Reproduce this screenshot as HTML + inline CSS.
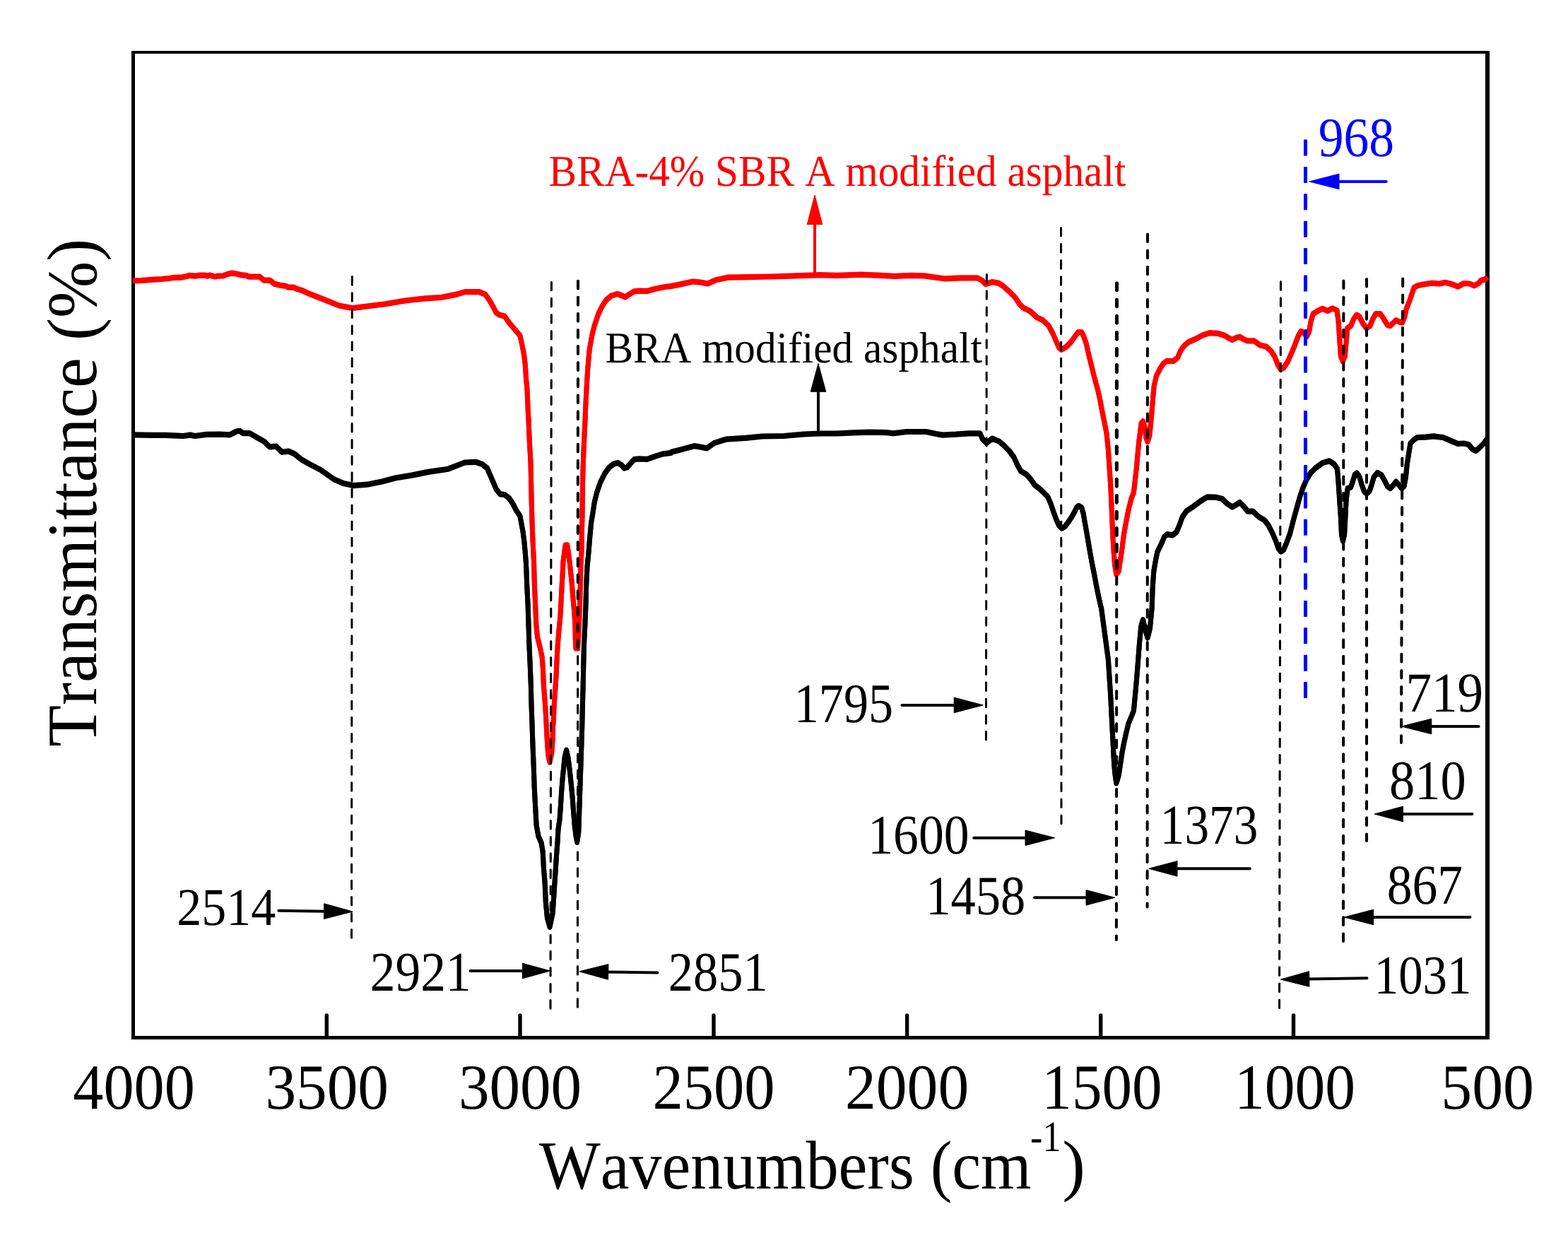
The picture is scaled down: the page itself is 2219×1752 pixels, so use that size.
<!DOCTYPE html>
<html lang="en"><head><meta charset="utf-8"><title>FTIR spectra</title>
<style>html,body{margin:0;padding:0;background:#fff}body{width:2219px;height:1752px;overflow:hidden}svg{display:block}</style>
</head><body>
<svg width="2219" height="1752" viewBox="0 0 2219 1752" font-family='"Liberation Serif", serif' text-rendering="geometricPrecision" style="font-kerning:none;font-variant-ligatures:none">
<rect width="2219" height="1752" fill="#fff"/>
<rect x="186" y="72" width="5" height="1399" fill="#000"/>
<rect x="2102" y="72" width="6" height="1399" fill="#000"/>
<rect x="186" y="72" width="1922" height="4" fill="#000"/>
<rect x="186" y="1466" width="1922" height="5" fill="#000"/>
<path d="M188 614.8 L189.4 614.8 L215.1 615.3 L233.9 615.3 L259.6 616.4 L269 615 L276 616.4 L292.4 614.3 L311.1 614.1 L325.2 614.8 L334.6 609.9 L339.3 609.2 L343.9 612.5 L353.3 612.5 L365 619.3 L374.4 624.6 L381.4 631.7 L390.8 631 L399 639.2 L408.3 638 L416.5 641.5 L425.9 649.2 L437.6 656 L454 664.5 L472.7 677.8 L486.8 683.7 L500.8 686.5 L519.6 685.1 L540.7 680.9 L559.4 675.9 L582.8 672 L606.2 667.3 L634.3 663.1 L657.8 653.9 L671.8 653.2 L674 653.4 L682.5 656.5 L689.5 662.1 L694.4 673.4 L698.6 683.2 L702.2 691.6 L707.8 698.7 L714.1 699.4 L720.4 704.3 L726 712.7 L730.3 721.1 L735.9 729.6 L738 740.8 L740.1 752.1 L741.9 766.1 L743.2 780.2 L744.3 794.2 L745 808.3 L745.7 827.5 L747.1 855.6 L748 883.7 L748.9 911.8 L750.2 939.9 L751.3 968 L752 996.1 L753 1024.2 L754.1 1057.5 L755.3 1085.6 L756.2 1113.7 L757.7 1141.8 L759.1 1167.1 L761.9 1182.6 L766.1 1192.4 L768.2 1205 L769.3 1226.1 L771 1247.2 L772.4 1277.5 L774.5 1298.6 L778 1311.2 L782.2 1291.6 L783.6 1270.5 L785.1 1247.2 L786.5 1226.1 L787.9 1205 L789 1191 L790 1172.7 L792.1 1158.7 L793.5 1139 L794.6 1120.7 L796 1102.5 L797.7 1085.6 L799.1 1071.6 L801.5 1061 L804 1071.6 L806.1 1088.4 L808.2 1108.1 L810.1 1127.8 L811.7 1148.8 L813.4 1169.9 L815.3 1184 L816.7 1191 L818.8 1176.9 L819.5 1155.9 L820.2 1134.8 L820.9 1113.7 L821.6 1092.6 L822.3 1071.6 L823 1050.5 L823.7 1029.4 L824.1 1010.2 L825.2 968 L825.8 939.9 L826.5 911.8 L827.9 883.7 L829 855.6 L829.7 827.5 L831.1 799.4 L831.7 794.2 L833.1 780.2 L834.2 766.1 L835.4 752.1 L836.8 738 L839.2 724 L841.3 709.9 L844.8 695.9 L849.7 681.8 L856 669.2 L862.3 660.7 L868 656.2 L874.3 654.4 L879.2 657.2 L883.4 661.9 L887.6 660.7 L891.8 655.8 L897.5 649.5 L904.5 648.8 L915.7 649.2 L927 645.3 L938.2 641.8 L949.4 640.4 L950 639.2 L964 635.7 L982.8 630.5 L992.2 632.1 L1000.4 633.8 L1010.9 626.3 L1027.3 621.1 L1055.4 619.3 L1078.8 616.9 L1109.3 616.4 L1137.4 613.9 L1160.8 612.9 L1184.2 612.9 L1207.6 611.8 L1231 611.1 L1254.4 611.5 L1263.8 612.7 L1282.6 610.4 L1310.7 610.4 L1324.7 613.4 L1334.1 615 L1352.8 614.1 L1371.5 612.7 L1386.8 612.7 L1390.3 620.4 L1396.1 626.3 L1404.3 620 L1413.7 623.9 L1420 629.2 L1428.2 637.4 L1434.8 646.4 L1439.7 657.1 L1444.6 666.1 L1452.8 671 L1459.3 678.4 L1464.3 685.8 L1470.8 690.7 L1477.4 696.8 L1483.1 703 L1487.2 712.8 L1490.5 722.7 L1494.6 734.2 L1498.7 743.2 L1502.8 746.9 L1506.9 744.8 L1511.8 738.3 L1516.7 730.9 L1520.8 723.5 L1524.1 716.9 L1526.6 715.3 L1530.7 717.8 L1533.1 726 L1535.6 740.7 L1538 753.8 L1540.5 768.6 L1543 783.3 L1545.4 796.4 L1548.7 812.8 L1551.1 826 L1554.4 842.4 L1557.7 857.1 L1558.5 859.4 L1561.8 884 L1565.1 908.6 L1568.4 933.2 L1570 957.8 L1571.6 982.4 L1572.8 1006.9 L1574.1 1031.5 L1575.4 1056.1 L1576.6 1080.7 L1578.2 1097.1 L1579.8 1107.8 L1583.1 1097.1 L1585.6 1080.7 L1588 1064.3 L1590.5 1051.2 L1593.8 1036.4 L1597 1023.3 L1601.1 1013.5 L1604.4 1005.3 L1606.1 987.3 L1608.5 961 L1610.7 933.2 L1612.6 908.6 L1614.8 885.6 L1617.5 876.6 L1620.3 888.9 L1624.1 902 L1627.4 888.9 L1629 872.5 L1630.2 859.4 L1631.1 832.5 L1632.8 807.9 L1635.6 791.5 L1638 780.1 L1643 770.2 L1647.9 758.7 L1652 755.5 L1659.3 756.8 L1665.1 752.2 L1669.2 742.4 L1673.3 730.9 L1679 722.7 L1688.9 716.1 L1698.7 708.7 L1708.5 702.7 L1720 703 L1729.8 705.5 L1736.4 712 L1743.8 716.9 L1749.5 713.7 L1754.4 710.4 L1760.2 716.1 L1765.7 723 L1773.1 723 L1781.3 730.7 L1789.5 735.6 L1795.2 743 L1801 754.5 L1805.9 766 L1809.2 775.8 L1812.8 779.9 L1816.6 777.4 L1820.7 767.6 L1825.6 754.5 L1829.7 738.1 L1833.8 723.3 L1838.7 705.3 L1843.6 690.5 L1849.3 677.4 L1855.1 668.4 L1861.6 661.9 L1871.5 654.5 L1881.3 651.7 L1887.9 656.1 L1892.5 662.7 L1894.1 682.4 L1895.7 706.9 L1897.4 731.5 L1898.5 756.1 L1900.5 765.1 L1902.6 756.1 L1903.9 731.5 L1905.1 706.9 L1907.2 690.5 L1911.6 688.9 L1914.9 679.1 L1917.4 670.9 L1920.3 668.9 L1923.9 674.2 L1927.2 685.6 L1930.5 694.6 L1934.1 697.9 L1937.9 694.6 L1941.1 685.6 L1944.4 674.2 L1949.3 668.4 L1955.1 671.7 L1959.2 679.1 L1963.3 687.3 L1967.4 690.5 L1971.5 686.4 L1975.6 681 L1979.7 685.6 L1983.8 690.5 L1987 687.3 L1989.5 674.2 L1991.1 657.8 L1993.6 641.4 L1996.1 626.6 L2001 621.7 L2005.9 618.4 L2017.4 618.1 L2028.9 616.8 L2042 618.4 L2053.4 623.3 L2063.3 627.4 L2071.5 626.9 L2078 628.3 L2083.8 635.1 L2088.7 637.3 L2094.4 632.4 L2100.2 626.6 L2104.3 620.9" fill="none" stroke="#000" stroke-width="7.0" stroke-linejoin="round" stroke-linecap="butt"/>
<path d="M188 616 L189.4 616 L215.1 616.5 L233.9 616.5 L259.6 617.6 L269 616.2 L276 617.6 L292.4 615.5 L311.1 615.3 L325.2 616 L334.6 611.1 L339.3 610.4 L343.9 613.7 L353.3 613.7 L365 620.5 L374.4 625.8 L381.4 632.9 L390.8 632.2 L399 640.4 L408.3 639.2 L416.5 642.7 L425.9 650.4 L437.6 657.2 L454 665.7 L472.7 679 L486.8 684.9 L500.8 687.7 L519.6 686.3 L540.7 682.1 L559.4 677.1 L582.8 673.2 L606.2 668.5 L634.3 664.3 L657.8 655.1 L671.8 654.4 L674 654.6 L682.5 657.7 L689.5 663.3 L694.4 674.6 L698.6 684.4 L702.2 692.8 L707.8 699.9 L714.1 700.6 L720.4 705.5 L726 713.9 L730.3 722.3 L735.9 730.8 L738 742 L740.1 753.3 L741.9 767.3 L743.2 781.4 L744.3 795.4 L745 809.5 L745.7 828.7 L747.1 856.8 L748 884.9 L748.9 913 L750.2 941.1 L751.3 969.2 L752 997.3 L753 1025.4 L754.1 1058.7 L755.3 1086.8 L756.2 1114.9 L757.7 1143 L759.1 1168.3 L761.9 1183.8 L766.1 1193.6 L768.2 1206.2 L769.3 1227.3 L771 1248.4 L772.4 1278.7 L774.5 1299.8 L778 1312.4 L782.2 1292.8 L783.6 1271.7 L785.1 1248.4 L786.5 1227.3 L787.9 1206.2 L789 1192.2 L790 1173.9 L792.1 1159.9 L793.5 1140.2 L794.6 1121.9 L796 1103.7 L797.7 1086.8 L799.1 1072.8 L801.5 1062.2 L804 1072.8 L806.1 1089.6 L808.2 1109.3 L810.1 1129 L811.7 1150 L813.4 1171.1 L815.3 1185.2 L816.7 1192.2 L818.8 1178.1 L819.5 1157.1 L820.2 1136 L820.9 1114.9 L821.6 1093.8 L822.3 1072.8 L823 1051.7 L823.7 1030.6 L824.1 1011.4 L825.2 969.2 L825.8 941.1 L826.5 913 L827.9 884.9 L829 856.8 L829.7 828.7 L831.1 800.6 L831.7 795.4 L833.1 781.4 L834.2 767.3 L835.4 753.3 L836.8 739.2 L839.2 725.2 L841.3 711.1 L844.8 697.1 L849.7 683 L856 670.4 L862.3 661.9 L868 657.4 L874.3 655.6 L879.2 658.4 L883.4 663.1 L887.6 661.9 L891.8 657 L897.5 650.7 L904.5 650 L915.7 650.4 L927 646.5 L938.2 643 L949.4 641.6 L950 640.4 L964 636.9 L982.8 631.7 L992.2 633.3 L1000.4 635 L1010.9 627.5 L1027.3 622.3 L1055.4 620.5 L1078.8 618.1 L1109.3 617.6 L1137.4 615.1 L1160.8 614.1 L1184.2 614.1 L1207.6 613 L1231 612.3 L1254.4 612.7 L1263.8 613.9 L1282.6 611.6 L1310.7 611.6 L1324.7 614.6 L1334.1 616.2 L1352.8 615.3 L1371.5 613.9 L1386.8 613.9 L1390.3 621.6 L1396.1 627.5 L1404.3 621.2 L1413.7 625.1 L1420 630.4 L1428.2 638.6 L1434.8 647.6 L1439.7 658.3 L1444.6 667.3 L1452.8 672.2 L1459.3 679.6 L1464.3 687 L1470.8 691.9 L1477.4 698 L1483.1 704.2 L1487.2 714 L1490.5 723.9 L1494.6 735.4 L1498.7 744.4 L1502.8 748.1 L1506.9 746 L1511.8 739.5 L1516.7 732.1 L1520.8 724.7 L1524.1 718.1 L1526.6 716.5 L1530.7 719 L1533.1 727.2 L1535.6 741.9 L1538 755 L1540.5 769.8 L1543 784.5 L1545.4 797.6 L1548.7 814 L1551.1 827.2 L1554.4 843.6 L1557.7 858.3 L1558.5 860.6 L1561.8 885.2 L1565.1 909.8 L1568.4 934.4 L1570 959 L1571.6 983.6 L1572.8 1008.1 L1574.1 1032.7 L1575.4 1057.3 L1576.6 1081.9 L1578.2 1098.3 L1579.8 1109 L1583.1 1098.3 L1585.6 1081.9 L1588 1065.5 L1590.5 1052.4 L1593.8 1037.6 L1597 1024.5 L1601.1 1014.7 L1604.4 1006.5 L1606.1 988.5 L1608.5 962.2 L1610.7 934.4 L1612.6 909.8 L1614.8 886.8 L1617.5 877.8 L1620.3 890.1 L1624.1 903.2 L1627.4 890.1 L1629 873.7 L1630.2 860.6 L1631.1 833.7 L1632.8 809.1 L1635.6 792.7 L1638 781.3 L1643 771.4 L1647.9 759.9 L1652 756.7 L1659.3 758 L1665.1 753.4 L1669.2 743.6 L1673.3 732.1 L1679 723.9 L1688.9 717.3 L1698.7 709.9 L1708.5 703.9 L1720 704.2 L1729.8 706.7 L1736.4 713.2 L1743.8 718.1 L1749.5 714.9 L1754.4 711.6 L1760.2 717.3 L1765.7 724.2 L1773.1 724.2 L1781.3 731.9 L1789.5 736.8 L1795.2 744.2 L1801 755.7 L1805.9 767.2 L1809.2 777 L1812.8 781.1 L1816.6 778.6 L1820.7 768.8 L1825.6 755.7 L1829.7 739.3 L1833.8 724.5 L1838.7 706.5 L1843.6 691.7 L1849.3 678.6 L1855.1 669.6 L1861.6 663.1 L1871.5 655.7 L1881.3 652.9 L1887.9 657.3 L1892.5 663.9 L1894.1 683.6 L1895.7 708.1 L1897.4 732.7 L1898.5 757.3 L1900.5 766.3 L1902.6 757.3 L1903.9 732.7 L1905.1 708.1 L1907.2 691.7 L1911.6 690.1 L1914.9 680.3 L1917.4 672.1 L1920.3 670.1 L1923.9 675.4 L1927.2 686.8 L1930.5 695.8 L1934.1 699.1 L1937.9 695.8 L1941.1 686.8 L1944.4 675.4 L1949.3 669.6 L1955.1 672.9 L1959.2 680.3 L1963.3 688.5 L1967.4 691.7 L1971.5 687.6 L1975.6 682.2 L1979.7 686.8 L1983.8 691.7 L1987 688.5 L1989.5 675.4 L1991.1 659 L1993.6 642.6 L1996.1 627.8 L2001 622.9 L2005.9 619.6 L2017.4 619.3 L2028.9 618 L2042 619.6 L2053.4 624.5 L2063.3 628.6 L2071.5 628.1 L2078 629.5 L2083.8 636.3 L2088.7 638.5 L2094.4 633.6 L2100.2 627.8 L2104.3 622.1" fill="none" stroke="#000" stroke-width="7.0" stroke-linejoin="round" stroke-linecap="butt"/>
<path d="M188 396.9 L199.2 396.4 L213.7 395.2 L228.1 394.4 L240.1 393.2 L247.3 392.2 L256.9 392 L264.1 390.4 L267.7 389.2 L276.2 390.1 L282.2 389 L290.6 389 L293 390.1 L297.2 388.9 L304.4 391 L307.4 390.1 L315.8 389.8 L321.8 387.4 L327.8 385.9 L336.2 387.2 L341.1 388.6 L348.3 389.2 L351.9 391 L367.5 391 L373.5 396.1 L381.9 396.1 L387.9 400.9 L396.3 403.1 L404.8 404.3 L408.4 406.1 L415.6 406.1 L420.4 408.5 L427.6 410.3 L434.8 413.9 L440 416 L461 424.2 L479.8 431.9 L498.5 435.4 L517.2 433.1 L545.3 429.6 L573.4 424.9 L601.5 421.8 L625 420.2 L646 416 L657.8 412.5 L671.8 412.5 L678.3 412.5 L686.7 416 L692.3 423.7 L697.9 433.5 L702.2 442 L706.4 444.8 L714.1 446.9 L720.4 456 L728.8 465.9 L735.9 474.3 L738.7 486.9 L741.5 501 L743.2 515 L744.6 536.1 L746 550.2 L747.1 578.3 L748.2 597.5 L749.4 625.6 L751 653.7 L751.6 681.8 L752.2 709.9 L753 738 L754.1 766.1 L755.5 794.2 L756.4 827.5 L757.7 855.6 L758.8 883.7 L760.5 900.6 L764 914.6 L767.1 928.7 L768.5 946.9 L769.3 968 L770.7 986.3 L772 1003.1 L773.1 1024.2 L774.5 1050.4 L775.9 1068.7 L778 1077.9 L780.8 1064.5 L782 1047.7 L782.5 1029.4 L783.4 1017.2 L784.3 996.1 L785.8 975 L787.2 954 L788.1 932.9 L789.3 911.8 L790.7 894.9 L792.8 872.5 L794.2 848.6 L795.2 827.5 L796.3 808.3 L797 794.2 L799 778.4 L800.3 770.8 L802.7 770.8 L804 778.4 L806.1 794.2 L807.5 808.3 L808.9 820.5 L810.6 841.6 L812.5 862.6 L813.9 883.7 L814.3 904.8 L814.9 917 L817.6 917 L818.4 904.8 L819.5 883.7 L820.5 855.6 L821.3 827.5 L821.9 799.4 L823 780.2 L823.4 752.1 L824.1 724 L824.4 688.8 L825.1 660.7 L826.5 625.6 L827.9 597.5 L828.6 578.3 L830 550.2 L831.7 522.1 L834.2 494 L837.7 474.3 L841.3 460.2 L846.9 443.4 L852.5 432.1 L858.1 423.7 L865.1 418.1 L873.6 415.3 L879.2 417.4 L884.8 419.8 L890.4 416 L897.5 411.8 L903.1 411.1 L915.7 411.3 L927 408.2 L941 405.4 L950 404.3 L964 401.5 L980.4 397.9 L992.2 399.1 L1001.5 400.8 L1013.2 395.6 L1029.6 392.1 L1055.4 391.6 L1090.5 390.9 L1125.6 389.8 L1160.8 388.6 L1184.2 389.3 L1219.3 388.1 L1242.7 389 L1266.2 390.2 L1289.6 389.3 L1308.3 389.8 L1324.7 392.1 L1336.4 393.7 L1359.8 392.8 L1383.3 392.8 L1390.3 396.8 L1395 401.5 L1404.3 398.4 L1413.7 400.3 L1420 404.5 L1428.2 411.9 L1436.4 420.1 L1443 429.9 L1447.9 434.8 L1457.7 439.7 L1467.5 448.7 L1475.7 452.5 L1483.9 460.2 L1490.5 472.5 L1495.4 484 L1498.7 491.4 L1502 494.2 L1508.5 490.5 L1515.1 484 L1521.6 475 L1525.7 469.6 L1530.7 469.6 L1533.9 475.8 L1537.2 485.6 L1540.5 500.4 L1543.8 513.5 L1547 526.6 L1550.3 539.7 L1553.6 551.2 L1556.9 566 L1559.3 579.1 L1562.6 595.5 L1565.9 611.9 L1567.5 627.4 L1568.4 635.8 L1570 660.4 L1571.6 685 L1572.8 709.6 L1573.8 734.2 L1574.9 758.7 L1576.1 780.1 L1577.7 799.7 L1579.8 812 L1583.1 807.9 L1585.6 791.5 L1588 775.1 L1590.5 755.5 L1593.8 737.4 L1597 721 L1601.1 704.6 L1604.4 696.4 L1606.1 681.7 L1608.5 660.4 L1610.2 640.7 L1611.8 624.3 L1613.4 611.9 L1615.1 598.7 L1617.5 595.5 L1620.3 605.3 L1621.6 618.4 L1624.1 624.6 L1626.9 615.1 L1628.5 598.7 L1630.2 580.7 L1631.5 564.3 L1633.1 546.3 L1636.4 531.5 L1641.3 521.7 L1646.2 514.3 L1651.1 510.2 L1661 510.2 L1666.7 505.3 L1670.8 495.5 L1675.7 488.9 L1682.3 483.2 L1692.1 479.1 L1702 473.8 L1711.8 470.5 L1723.3 471.2 L1733.1 474.2 L1739.7 478.3 L1743.8 480.4 L1749.5 477.4 L1754.4 476.1 L1759.3 479.1 L1764.9 481.7 L1774.8 481.7 L1783 487.8 L1792 489.9 L1799.3 496.8 L1804.3 505 L1808.4 515.6 L1812.5 522.2 L1816.6 519.7 L1822.3 511.5 L1827.2 500.1 L1832.1 488.6 L1837 475.5 L1841.1 468.1 L1845.2 470.5 L1849.3 475.5 L1852.6 468.9 L1855.1 454.2 L1858.4 443.5 L1864.9 439.4 L1871.5 436.1 L1878.9 439.4 L1885.4 435.8 L1892 438.6 L1894.1 454.2 L1895.7 478.7 L1897.4 503.3 L1900.2 510.7 L1903.4 503.3 L1905.1 483.7 L1906.7 464 L1911.6 460.7 L1915.7 450.9 L1919.8 445.1 L1923.9 447.6 L1928.9 457.4 L1933.8 464 L1938.7 460.7 L1942.8 450.9 L1946.9 443.5 L1953.4 443.5 L1958.4 450.9 L1963.3 459.1 L1967.4 460.4 L1971.5 456.6 L1975.6 452.5 L1980.5 455 L1984.6 455.8 L1987.9 447.6 L1990.3 436.1 L1994.4 426.3 L1997.7 416.4 L2001 406.6 L2005.9 403.7 L2015.7 401.7 L2025.6 400.1 L2037 400.9 L2045.2 399.2 L2055.1 401.7 L2063.3 405 L2071.5 400.4 L2079.7 400.9 L2086.2 403.7 L2092.8 400.1 L2096.1 396 L2101 395.1 L2105.1 391.9" fill="none" stroke="#ff0000" stroke-width="7.0" stroke-linejoin="round" stroke-linecap="butt"/>
<path d="M188 398.1 L199.2 397.6 L213.7 396.4 L228.1 395.6 L240.1 394.4 L247.3 393.4 L256.9 393.2 L264.1 391.6 L267.7 390.4 L276.2 391.3 L282.2 390.2 L290.6 390.2 L293 391.3 L297.2 390.1 L304.4 392.2 L307.4 391.3 L315.8 391 L321.8 388.6 L327.8 387.1 L336.2 388.4 L341.1 389.8 L348.3 390.4 L351.9 392.2 L367.5 392.2 L373.5 397.3 L381.9 397.3 L387.9 402.1 L396.3 404.3 L404.8 405.5 L408.4 407.3 L415.6 407.3 L420.4 409.7 L427.6 411.5 L434.8 415.1 L440 417.2 L461 425.4 L479.8 433.1 L498.5 436.6 L517.2 434.3 L545.3 430.8 L573.4 426.1 L601.5 423 L625 421.4 L646 417.2 L657.8 413.7 L671.8 413.7 L678.3 413.7 L686.7 417.2 L692.3 424.9 L697.9 434.7 L702.2 443.2 L706.4 446 L714.1 448.1 L720.4 457.2 L728.8 467.1 L735.9 475.5 L738.7 488.1 L741.5 502.2 L743.2 516.2 L744.6 537.3 L746 551.4 L747.1 579.5 L748.2 598.7 L749.4 626.8 L751 654.9 L751.6 683 L752.2 711.1 L753 739.2 L754.1 767.3 L755.5 795.4 L756.4 828.7 L757.7 856.8 L758.8 884.9 L760.5 901.8 L764 915.8 L767.1 929.9 L768.5 948.1 L769.3 969.2 L770.7 987.5 L772 1004.3 L773.1 1025.4 L774.5 1051.6 L775.9 1069.9 L778 1079.1 L780.8 1065.7 L782 1048.9 L782.5 1030.6 L783.4 1018.4 L784.3 997.3 L785.8 976.2 L787.2 955.2 L788.1 934.1 L789.3 913 L790.7 896.1 L792.8 873.7 L794.2 849.8 L795.2 828.7 L796.3 809.5 L797 795.4 L799 779.6 L800.3 772 L802.7 772 L804 779.6 L806.1 795.4 L807.5 809.5 L808.9 821.7 L810.6 842.8 L812.5 863.8 L813.9 884.9 L814.3 906 L814.9 918.2 L817.6 918.2 L818.4 906 L819.5 884.9 L820.5 856.8 L821.3 828.7 L821.9 800.6 L823 781.4 L823.4 753.3 L824.1 725.2 L824.4 690 L825.1 661.9 L826.5 626.8 L827.9 598.7 L828.6 579.5 L830 551.4 L831.7 523.3 L834.2 495.2 L837.7 475.5 L841.3 461.4 L846.9 444.6 L852.5 433.3 L858.1 424.9 L865.1 419.3 L873.6 416.5 L879.2 418.6 L884.8 421 L890.4 417.2 L897.5 413 L903.1 412.3 L915.7 412.5 L927 409.4 L941 406.6 L950 405.5 L964 402.7 L980.4 399.1 L992.2 400.3 L1001.5 402 L1013.2 396.8 L1029.6 393.3 L1055.4 392.8 L1090.5 392.1 L1125.6 391 L1160.8 389.8 L1184.2 390.5 L1219.3 389.3 L1242.7 390.2 L1266.2 391.4 L1289.6 390.5 L1308.3 391 L1324.7 393.3 L1336.4 394.9 L1359.8 394 L1383.3 394 L1390.3 398 L1395 402.7 L1404.3 399.6 L1413.7 401.5 L1420 405.7 L1428.2 413.1 L1436.4 421.3 L1443 431.1 L1447.9 436 L1457.7 440.9 L1467.5 449.9 L1475.7 453.7 L1483.9 461.4 L1490.5 473.7 L1495.4 485.2 L1498.7 492.6 L1502 495.4 L1508.5 491.7 L1515.1 485.2 L1521.6 476.2 L1525.7 470.8 L1530.7 470.8 L1533.9 477 L1537.2 486.8 L1540.5 501.6 L1543.8 514.7 L1547 527.8 L1550.3 540.9 L1553.6 552.4 L1556.9 567.2 L1559.3 580.3 L1562.6 596.7 L1565.9 613.1 L1567.5 628.6 L1568.4 637 L1570 661.6 L1571.6 686.2 L1572.8 710.8 L1573.8 735.4 L1574.9 759.9 L1576.1 781.3 L1577.7 800.9 L1579.8 813.2 L1583.1 809.1 L1585.6 792.7 L1588 776.3 L1590.5 756.7 L1593.8 738.6 L1597 722.2 L1601.1 705.8 L1604.4 697.6 L1606.1 682.9 L1608.5 661.6 L1610.2 641.9 L1611.8 625.5 L1613.4 613.1 L1615.1 599.9 L1617.5 596.7 L1620.3 606.5 L1621.6 619.6 L1624.1 625.8 L1626.9 616.3 L1628.5 599.9 L1630.2 581.9 L1631.5 565.5 L1633.1 547.5 L1636.4 532.7 L1641.3 522.9 L1646.2 515.5 L1651.1 511.4 L1661 511.4 L1666.7 506.5 L1670.8 496.7 L1675.7 490.1 L1682.3 484.4 L1692.1 480.3 L1702 475 L1711.8 471.7 L1723.3 472.4 L1733.1 475.4 L1739.7 479.5 L1743.8 481.6 L1749.5 478.6 L1754.4 477.3 L1759.3 480.3 L1764.9 482.9 L1774.8 482.9 L1783 489 L1792 491.1 L1799.3 498 L1804.3 506.2 L1808.4 516.8 L1812.5 523.4 L1816.6 520.9 L1822.3 512.7 L1827.2 501.3 L1832.1 489.8 L1837 476.7 L1841.1 469.3 L1845.2 471.7 L1849.3 476.7 L1852.6 470.1 L1855.1 455.4 L1858.4 444.7 L1864.9 440.6 L1871.5 437.3 L1878.9 440.6 L1885.4 437 L1892 439.8 L1894.1 455.4 L1895.7 479.9 L1897.4 504.5 L1900.2 511.9 L1903.4 504.5 L1905.1 484.9 L1906.7 465.2 L1911.6 461.9 L1915.7 452.1 L1919.8 446.3 L1923.9 448.8 L1928.9 458.6 L1933.8 465.2 L1938.7 461.9 L1942.8 452.1 L1946.9 444.7 L1953.4 444.7 L1958.4 452.1 L1963.3 460.3 L1967.4 461.6 L1971.5 457.8 L1975.6 453.7 L1980.5 456.2 L1984.6 457 L1987.9 448.8 L1990.3 437.3 L1994.4 427.5 L1997.7 417.6 L2001 407.8 L2005.9 404.9 L2015.7 402.9 L2025.6 401.3 L2037 402.1 L2045.2 400.4 L2055.1 402.9 L2063.3 406.2 L2071.5 401.6 L2079.7 402.1 L2086.2 404.9 L2092.8 401.3 L2096.1 397.2 L2101 396.3 L2105.1 393.1" fill="none" stroke="#ff0000" stroke-width="7.0" stroke-linejoin="round" stroke-linecap="butt"/>
<line x1="498.3" y1="391.6" x2="497.5" y2="1329.6" stroke="#000" stroke-width="3" stroke-dasharray="11.6 11.5" stroke-linecap="round"/>
<line x1="780.4" y1="399.25" x2="779" y2="1430.75" stroke="#000" stroke-width="3.1" stroke-dasharray="11.5 11.6" stroke-linecap="round"/>
<line x1="818" y1="397.25" x2="817.4" y2="1428.75" stroke="#000" stroke-width="3.1" stroke-dasharray="11.5 11.6" stroke-linecap="round"/>
<line x1="818" y1="397.7" x2="817.7" y2="919.3" stroke="#000" stroke-width="4.0" stroke-dasharray="10.6 12.5" stroke-linecap="round"/>
<line x1="1396.4" y1="388.6" x2="1395.4" y2="1048.8" stroke="#000" stroke-width="3" stroke-dasharray="11.6 11.5" stroke-linecap="round"/>
<line x1="1501.5" y1="322.4" x2="1502" y2="1168.1" stroke="#000" stroke-width="3" stroke-dasharray="11.6 11.5" stroke-linecap="round"/>
<line x1="1580.5" y1="400.6" x2="1579.9" y2="1329.9" stroke="#000" stroke-width="4.0" stroke-dasharray="10.6 12.5" stroke-linecap="round"/>
<line x1="1580.5" y1="401.1" x2="1580.2" y2="814.8" stroke="#000" stroke-width="5.0" stroke-dasharray="9.6 13.5" stroke-linecap="round"/>
<line x1="1624" y1="331.5" x2="1623.6" y2="1283.6" stroke="#000" stroke-width="4.0" stroke-dasharray="10.6 12.5" stroke-linecap="round"/>
<line x1="1812.5" y1="398.65" x2="1810.5" y2="1427.55" stroke="#000" stroke-width="3.1" stroke-dasharray="11.5 11.6" stroke-linecap="round"/>
<line x1="1901.4" y1="397.4" x2="1901" y2="1333.9" stroke="#000" stroke-width="4" stroke-dasharray="10.6 12.5" stroke-linecap="round"/>
<line x1="1934" y1="395" x2="1934" y2="1189.9" stroke="#000" stroke-width="4" stroke-dasharray="10.6 12.5" stroke-linecap="round"/>
<line x1="1985.2" y1="394.5" x2="1983" y2="1050.9" stroke="#000" stroke-width="4" stroke-dasharray="10.6 12.5" stroke-linecap="round"/>
<line x1="1847.5" y1="197.5" x2="1847.5" y2="988.2" stroke="#0000ff" stroke-width="5" stroke-dasharray="23 15.38"/>
<line x1="462.3" y1="1437.0" x2="462.3" y2="1467" stroke="#000" stroke-width="5.4" stroke-linecap="round"/>
<line x1="736.0" y1="1437.0" x2="736.0" y2="1467" stroke="#000" stroke-width="5.4" stroke-linecap="round"/>
<line x1="1010.0" y1="1437.0" x2="1010.0" y2="1467" stroke="#000" stroke-width="5.4" stroke-linecap="round"/>
<line x1="1283.6" y1="1437.0" x2="1283.6" y2="1467" stroke="#000" stroke-width="5.4" stroke-linecap="round"/>
<line x1="1557.7" y1="1437.0" x2="1557.7" y2="1467" stroke="#000" stroke-width="5.4" stroke-linecap="round"/>
<line x1="1830.5" y1="1437.0" x2="1830.5" y2="1467" stroke="#000" stroke-width="5.4" stroke-linecap="round"/>
<line x1="394.4" y1="1288.82" x2="460.6" y2="1289.63" stroke="#000" stroke-width="4.0" stroke-linecap="round"/><polygon points="499.2,1290.1 458.47,1300.41 458.73,1278.81" fill="#000" stroke="#000" stroke-width="1" stroke-linejoin="round"/>
<line x1="665.5" y1="1374" x2="741.4" y2="1374" stroke="#000" stroke-width="4.0" stroke-linecap="round"/><polygon points="778.7,1374 739.4,1384.8 739.4,1363.2" fill="#000" stroke="#000" stroke-width="1" stroke-linejoin="round"/>
<line x1="930.4" y1="1376.47" x2="858.8" y2="1375.39" stroke="#000" stroke-width="4.0" stroke-linecap="round"/><polygon points="819.6,1374.8 860.96,1364.62 860.63,1386.22" fill="#000" stroke="#000" stroke-width="1" stroke-linejoin="round"/>
<line x1="1276.4" y1="997.9" x2="1352.2" y2="997.9" stroke="#000" stroke-width="4.0" stroke-linecap="round"/><polygon points="1391.3,997.9 1350.2,1008.7 1350.2,987.1" fill="#000" stroke="#000" stroke-width="1" stroke-linejoin="round"/>
<line x1="1378.1" y1="1185.7" x2="1453" y2="1185.7" stroke="#000" stroke-width="4.0" stroke-linecap="round"/><polygon points="1492.6,1185.7 1451,1196.5 1451,1174.9" fill="#000" stroke="#000" stroke-width="1" stroke-linejoin="round"/>
<line x1="1464.1" y1="1270.3" x2="1539" y2="1270.3" stroke="#000" stroke-width="4.0" stroke-linecap="round"/><polygon points="1577.8,1270.3 1537,1281.1 1537,1259.5" fill="#000" stroke="#000" stroke-width="1" stroke-linejoin="round"/>
<line x1="1768.8" y1="1229.3" x2="1664" y2="1229.3" stroke="#000" stroke-width="4.0" stroke-linecap="round"/><polygon points="1625.8,1229.3 1666,1218.5 1666,1240.1" fill="#000" stroke="#000" stroke-width="1" stroke-linejoin="round"/>
<line x1="1934.5" y1="1384.23" x2="1850.8" y2="1385.51" stroke="#000" stroke-width="4.0" stroke-linecap="round"/><polygon points="1812.2,1386.1 1852.63,1374.68 1852.96,1396.28" fill="#000" stroke="#000" stroke-width="1" stroke-linejoin="round"/>
<line x1="2080.5" y1="1298" x2="1941.7" y2="1298" stroke="#000" stroke-width="4.0" stroke-linecap="round"/><polygon points="1902.3,1298 1943.7,1287.2 1943.7,1308.8" fill="#000" stroke="#000" stroke-width="1" stroke-linejoin="round"/>
<line x1="2083.4" y1="1152" x2="1983.4" y2="1152" stroke="#000" stroke-width="4.0" stroke-linecap="round"/><polygon points="1945,1152 1985.4,1141.2 1985.4,1162.8" fill="#000" stroke="#000" stroke-width="1" stroke-linejoin="round"/>
<line x1="2092.6" y1="1028" x2="2023.8" y2="1028" stroke="#000" stroke-width="4.0" stroke-linecap="round"/><polygon points="1983.1,1028 2025.8,1017.2 2025.8,1038.8" fill="#000" stroke="#000" stroke-width="1" stroke-linejoin="round"/>
<line x1="1961.8" y1="256.9" x2="1893" y2="256.9" stroke="#0000ff" stroke-width="4.0" stroke-linecap="round"/><polygon points="1852.8,256.9 1895,246.1 1895,267.7" fill="#0000ff" stroke="#0000ff" stroke-width="1" stroke-linejoin="round"/>
<line x1="1153" y1="390" x2="1153" y2="315.7" stroke="#ff0000" stroke-width="4.0"/><polygon points="1153,276 1142.2,317.7 1163.8,317.7" fill="#ff0000" stroke="#ff0000" stroke-width="1" stroke-linejoin="round"/>
<line x1="1158" y1="612" x2="1158" y2="552.3" stroke="#000" stroke-width="4.0"/><polygon points="1158,514.5 1147.2,554.3 1168.8,554.3" fill="#000" stroke="#000" stroke-width="1" stroke-linejoin="round"/>
<text transform="matrix(0.8624 0 0 0.9081 103.28 1569.09)" font-size="100" fill="#000">4000</text>
<text transform="matrix(0.8728 0 0 0.9081 375.44 1569.09)" font-size="100" fill="#000">3500</text>
<text transform="matrix(0.8712 0 0 0.9081 648.94 1569.09)" font-size="100" fill="#000">3000</text>
<text transform="matrix(0.8663 0 0 0.9081 923.4 1569.09)" font-size="100" fill="#000">2500</text>
<text transform="matrix(0.8762 0 0 0.9081 1195.96 1569.09)" font-size="100" fill="#000">2000</text>
<text transform="matrix(0.8508 0 0 0.9081 1474.34 1569.09)" font-size="100" fill="#000">1500</text>
<text transform="matrix(0.8551 0 0 0.9081 1746.9 1569.09)" font-size="100" fill="#000">1000</text>
<text transform="matrix(0.8779 0 0 0.9081 2039.33 1569.09)" font-size="100" fill="#000">500</text>
<text transform="matrix(0.7005 0 0 0.7507 250.15 1309.15)" font-size="100" fill="#000">2514</text>
<text transform="matrix(0.7145 0 0 0.7940 523.68 1402.41)" font-size="100" fill="#000">2921</text>
<text transform="matrix(0.7055 0 0 0.7881 945.63 1402.41)" font-size="100" fill="#000">2851</text>
<text transform="matrix(0.7011 0 0 0.7910 1123.79 1022.01)" font-size="100" fill="#000">1795</text>
<text transform="matrix(0.7166 0 0 0.7926 1228.25 1208.21)" font-size="100" fill="#000">1600</text>
<text transform="matrix(0.7048 0 0 0.7881 1310.16 1293.91)" font-size="100" fill="#000">1458</text>
<text transform="matrix(0.6925 0 0 0.7955 1641.77 1193.5)" font-size="100" fill="#000">1373</text>
<text transform="matrix(0.6886 0 0 0.7763 1944.7 1405.72)" font-size="100" fill="#000">1031</text>
<text transform="matrix(0.7161 0 0 0.7970 1962.74 1278.9)" font-size="100" fill="#000">867</text>
<text transform="matrix(0.7246 0 0 0.7911 1966 1130.51)" font-size="100" fill="#000">810</text>
<text transform="matrix(0.7305 0 0 0.7970 1989.45 1006.6)" font-size="100" fill="#000">719</text>
<text transform="matrix(0.7154 0 0 0.7896 1865.65 221.21)" font-size="100" fill="#0000ff">968</text>
<text transform="matrix(0.5929 0 0 0.6244 776.52 262.8)" font-size="100" fill="#ff0000">BRA-4% SBR A modified asphalt</text>
<text transform="matrix(0.5929 0 0 0.6214 856.42 512.9)" font-size="100" fill="#000">BRA modified asphalt</text>
<text transform="matrix(0.9187 0 0 0.9756 763.1 1681.8)" font-size="100" fill="#000">Wavenumbers (cm</text>
<text transform="matrix(0.5211 0 0 0.6137 1458.08 1629.2)" font-size="100" fill="#000">-1</text>
<text transform="matrix(0.9808 0 0 0.9644 1503.26 1681.45)" font-size="100" fill="#000">)</text>
<text transform="matrix(0 -0.9627 1.0026 0 136.07 1056.83)" font-size="100" fill="#000">Transmittance (%)</text>
</svg>
</body></html>
